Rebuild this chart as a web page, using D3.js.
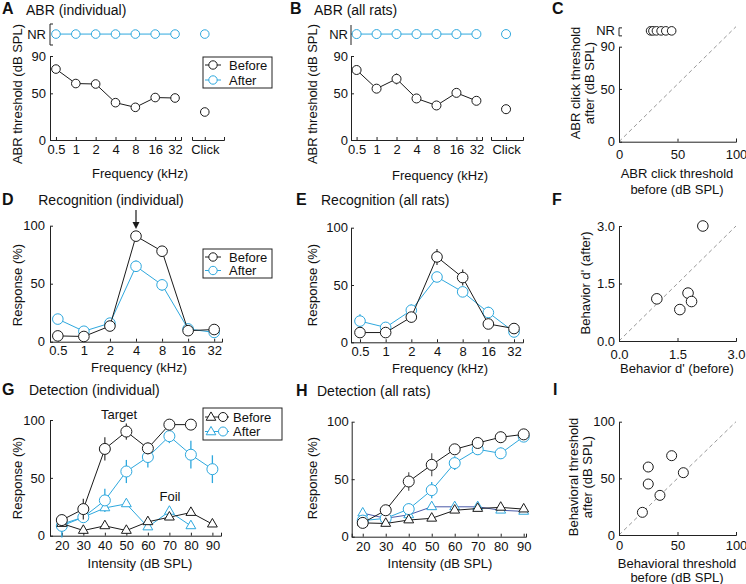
<!DOCTYPE html>
<html><head><meta charset="utf-8">
<script src="https://cdn.jsdelivr.net/npm/d3@7"></script>
<style>
body{margin:0;background:#fff;}
svg{display:block;font-family:"Liberation Sans",Arial,Helvetica,sans-serif;}
</style></head><body>
<svg id="chart" width="746" height="584"></svg>
<script>
// ---------------- DATA ----------------
const freqs = ["0.5","1","2","4","8","16","32"];
const clickCat = ["Click"];
const intensities = [20,30,40,50,60,70,80,90];

// A: ABR individual
const abrIndivBefore = [76, 60.5, 60, 40, 35, 45.5, 45];
const abrIndivBeforeClick = 30;
const abrIndivAfter = ["NR","NR","NR","NR","NR","NR","NR"];
const abrIndivAfterClick = "NR";
// B: ABR all rats
const abrAllBefore = [75, 55, 65.5, 44.5, 37, 50.5, 42];
const abrAllBeforeErr = [2, 2, 6, 4, 2, 3, 3];
const abrAllBeforeClick = 33;
const abrAllAfter = ["NR","NR","NR","NR","NR","NR","NR"];
const abrAllAfterClick = "NR";
// C: click thresholds
const clickBefore = [27, 29, 32, 36, 40, 45];
const clickAfter = ["NR","NR","NR","NR","NR","NR"];
// D: recognition individual
const recIndivBefore = [5, 4.5, 13.5, 91, 78, 9.5, 10.5];
const recIndivAfter = [19.5, 9, 16, 65, 49, 11, 8];
const recIndivAfterErr = [0, 0, 0, 5, 5, 0, 0];
// E: recognition all rats
const recAllBefore = [8.5, 8.5, 22, 74.5, 56.5, 16, 12];
const recAllBeforeErr = [2, 2, 5, 7, 7, 3, 2];
const recAllAfter = [18.5, 13, 28, 57, 44, 26, 9];
const recAllAfterErr = [6, 3, 5, 3, 3, 5, 3];
// F: d'
const dprimeBefore = [2.15, 0.97, 1.77, 1.86, 1.56];
const dprimeAfter = [3.0, 1.1, 1.25, 1.03, 0.82];
// G: detection individual
const detIndTargetBefore = [13.5, 23, 75, 90, 75.5, 96, 96, null];
const detIndTargetBeforeErr = [3, 9, 10, 7, 5, 3, 0, 0];
const detIndTargetAfter = [8.5, 16, 30.5, 55.5, 68, 86, 70, 57.5];
const detIndTargetAfterErr = [10, 4, 10, 10, 9, 6, 12, 12];
const detIndFoilBefore = [10.5, 4.5, 8.5, 4.5, 12, 16, 20, 10];
const detIndFoilAfter = [10, 16, 24, 27.5, 7.5, 21, 8.5, null];
// H: detection all rats
const detAllTargetBefore = [12, 23, 48, 62.5, 76, 81.5, 86.5, 89];
const detAllTargetBeforeErr = [2, 3, 8, 10, 4, 4, 5, 3];
const detAllTargetAfter = [14, 16, 24, 40.5, 64, 76, 72.5, 87];
const detAllTargetAfterErr = [3, 3, 5, 7, 6, 5, 5, 4];
const detAllFoilBefore = [12, 11.5, 14.5, 16, 23, 24.5, 25.5, 24];
const detAllFoilAfter = [20.5, 16, 19, 26, 26, 26, 23, 22];
// I: behavioral thresholds
const behBefore = [20, 25, 25, 35, 45, 55];
const behAfter = [20, 45, 60, 35, 70, 55];

// ---------------- STYLE ----------------
const CYAN = "#2ea8de";
const BLK = "#1a1a1a";
const AX = "#222";
const NAVY = "#4a5aa8";
const NR_AB = 113.5;   // level of "NR" row in A/B (dB scale units)
const NR_C = 105;      // level of "NR" row in C

const svg = d3.select("#chart");

function txt(x, y, s, o = {}) {
  const t = svg.append("text").attr("x", x).attr("y", y)
    .attr("font-size", o.size || 13).attr("fill", "#111")
    .attr("text-anchor", o.anchor || "start")
    .attr("font-weight", o.weight || "normal").text(s);
  return t;
}
function rtxt(cx, cy, s) {
  svg.append("text").attr("transform", `translate(${cx},${cy}) rotate(-90)`)
    .attr("text-anchor", "middle").attr("dy", "0.35em")
    .attr("font-size", 13).attr("fill", "#111").text(s);
}
function letter(x, y, s) { txt(x, y, s, {size: 16, weight: "bold"}); }

function styleAxis(g) {
  g.attr("font-family", null).attr("font-size", 13);
  g.select(".domain").attr("stroke", AX).attr("stroke-width", 1);
  g.selectAll(".tick line").attr("stroke", AX);
  g.selectAll(".tick text").attr("fill", "#111");
}
function axisB(scale, y, o = {}) {
  const ax = d3.axisBottom(scale).tickSizeInner(-3).tickSizeOuter(o.outer ?? -3).tickPadding(o.pad ?? 5);
  if (o.values) ax.tickValues(o.values);
  if (o.format) ax.tickFormat(o.format);
  const g = svg.append("g").attr("transform", `translate(0,${y})`).call(ax);
  styleAxis(g); return g;
}
function axisL(scale, x, o = {}) {
  const ax = d3.axisLeft(scale).tickSizeInner(-3).tickSizeOuter(0).tickPadding(o.pad ?? 4);
  if (o.values) ax.tickValues(o.values);
  if (o.format) ax.tickFormat(o.format);
  const g = svg.append("g").attr("transform", `translate(${x},0)`).call(ax);
  styleAxis(g); return g;
}
function line(pts, color, w = 1) {
  svg.append("path").datum(pts).attr("fill", "none").attr("stroke", color).attr("stroke-width", w)
    .attr("d", d3.line().defined(d => d[1] != null).x(d => d[0]).y(d => d[1]));
}
function circles(pts, color, r) {
  svg.append("g").selectAll("circle").data(pts.filter(d => d[1] != null)).join("circle")
    .attr("cx", d => d[0]).attr("cy", d => d[1]).attr("r", r)
    .attr("fill", "#fff").attr("stroke", color).attr("stroke-width", 1);
}
function triangles(pts, color, size = 42) {
  svg.append("g").selectAll("path").data(pts.filter(d => d[1] != null)).join("path")
    .attr("transform", d => `translate(${d[0]},${d[1]})`)
    .attr("d", d3.symbol(d3.symbolTriangle, size)())
    .attr("fill", "#fff").attr("stroke", color).attr("stroke-width", 1);
}
function errbars(xs, vals, errs, y, color, w = 1.3) {
  svg.append("g").selectAll("line").data(vals.map((v, i) => [xs[i], v, errs[i]]).filter(d => d[1] != null && d[2] > 0))
    .join("line").attr("x1", d => d[0]).attr("x2", d => d[0])
    .attr("y1", d => y(d[1] - d[2])).attr("y2", d => y(d[1] + d[2]))
    .attr("stroke", color).attr("stroke-width", w);
}
function dashed(x1, y1, x2, y2) {
  svg.append("line").attr("x1", x1).attr("y1", y1).attr("x2", x2).attr("y2", y2)
    .attr("stroke", "#999").attr("stroke-width", 1).attr("stroke-dasharray", "4,3");
}
function nrBracket(x, yTop, yBot, tick = 3) {
  svg.append("path").attr("fill", "none").attr("stroke", AX).attr("stroke-width", 1)
    .attr("d", `M${x + tick},${yTop}H${x}V${yBot}H${x + tick}`);
}
function legend(x, y, w, h, rows, tri) {
  svg.append("rect").attr("x", x).attr("y", y).attr("width", w).attr("height", h)
    .attr("fill", "#fff").attr("stroke", AX).attr("stroke-width", 1);
  rows.forEach(r => {
    if (tri) {
      line([[x + 2, r.cy], [x + 26, r.cy]], r.color);
      triangles([[x + 8, r.cy + 0.5]], r.color, 40);
      circles([[x + 20, r.cy]], r.color, 4.5);
      txt(x + 30, r.cy + 4.7, r.label);
    } else {
      line([[x + 2, r.cy], [x + 18, r.cy]], r.color);
      circles([[x + 10, r.cy]], r.color, 4.2);
      txt(x + 26, r.cy + 4.7, r.label);
    }
  });
}
const nr = (v, lvl) => v === "NR" ? lvl : v;

// ---------------- PANEL A ----------------
{
  const x = d3.scalePoint().domain(freqs).range([50, 181]).padding(0.3);
  const xc = d3.scalePoint().domain(clickCat).range([192, 224]).align(0.4);
  const y = d3.scaleLinear().domain([0, 90]).range([140, 56]);
  axisL(y, 50, {values: [0, 50, 90], pad: 4});
  axisB(x, 140, {pad: 5});
  axisB(xc, 140, {pad: 5});
  nrBracket(50, 24, 45);
  txt(46, y(NR_AB) + 4.5, "NR", {anchor: "end"});
  const aft = abrIndivAfter.map((v, i) => [x(freqs[i]), y(nr(v, NR_AB))]);
  line(aft, CYAN);
  circles(aft.concat([[xc("Click"), y(nr(abrIndivAfterClick, NR_AB))]]), CYAN, 4.3);
  const bef = abrIndivBefore.map((v, i) => [x(freqs[i]), y(v)]);
  line(bef, BLK);
  circles(bef.concat([[xc("Click"), y(abrIndivBeforeClick)]]), BLK, 4.3);
  legend(203, 57, 69, 31, [{cy: 65, color: BLK, label: "Before"}, {cy: 80, color: CYAN, label: "After"}]);
  letter(2, 14, "A");
  txt(26, 15, "ABR (individual)", {size: 14});
  rtxt(17, 94, "ABR threshold (dB SPL)");
  txt(140, 178, "Frequency (kHz)", {anchor: "middle"});
}
// ---------------- PANEL B ----------------
{
  const x = d3.scalePoint().domain(freqs).range([351, 482]).padding(0.28);
  const xc = d3.scalePoint().domain(clickCat).range([491, 523]).align(0.47);
  const y = d3.scaleLinear().domain([0, 90]).range([140, 56]);
  axisL(y, 351, {values: [0, 50, 90], pad: 3});
  axisB(x, 140, {pad: 5});
  axisB(xc, 140, {pad: 5});
  nrBracket(351, 25, 45, 0);
  svg.append("line").attr("x1", 351).attr("x2", 354).attr("y1", y(NR_AB)).attr("y2", y(NR_AB)).attr("stroke", AX);
  txt(348, y(NR_AB) + 4.5, "NR", {anchor: "end"});
  const aft = abrAllAfter.map((v, i) => [x(freqs[i]), y(nr(v, NR_AB))]);
  line(aft, CYAN);
  circles(aft.concat([[xc("Click"), y(nr(abrAllAfterClick, NR_AB))]]), CYAN, 4.5);
  const bx = freqs.map(f => x(f));
  errbars(bx, abrAllBefore, abrAllBeforeErr, y, "#555", 1.2);
  const bef = abrAllBefore.map((v, i) => [bx[i], y(v)]);
  line(bef, BLK);
  circles(bef.concat([[xc("Click"), y(abrAllBeforeClick)]]), BLK, 4.5);
  letter(290, 14, "B");
  txt(314, 15, "ABR (all rats)", {size: 14});
  rtxt(312, 94, "ABR threshold (dB SPL)");
  txt(440, 180, "Frequency (kHz)", {anchor: "middle"});
}
// ---------------- PANEL C ----------------
{
  const x = d3.scaleLinear().domain([0, 100]).range([619, 736]);
  const y = d3.scaleLinear().domain([0, 90]).range([141.7, 46.7]);
  dashed(x(0), y(0), x(100), y(109));
  axisL(y, 619, {values: [0, 50, 90], pad: 4});
  axisB(x, 141.7, {values: [0, 50, 100], pad: 8});
  nrBracket(619, y(NR_C) - 3, y(NR_C) + 5);
  txt(615, y(NR_C) + 4.5, "NR", {anchor: "end"});
  circles(clickBefore.map((v, i) => [x(v), y(nr(clickAfter[i], NR_C))]), BLK, 4.3);
  letter(552, 14, "C");
  rtxt(575, 83, "ABR click threshold");
  rtxt(589.5, 83, "after (dB SPL)");
  txt(677, 178, "ABR click threshold", {anchor: "middle"});
  txt(677, 194, "before (dB SPL)", {anchor: "middle"});
}
// ---------------- PANEL D ----------------
{
  const x = d3.scalePoint().domain(freqs).range([50, 222]).padding(0.3);
  const y = d3.scaleLinear().domain([0, 100]).range([341.7, 225.7]);
  axisL(y, 50, {values: [0, 50, 100], pad: 5});
  axisB(x, 341.7, {pad: 4});
  const xs = freqs.map(f => x(f));
  errbars(xs, recIndivAfter, recIndivAfterErr, y, CYAN);
  const aft = recIndivAfter.map((v, i) => [xs[i], y(v)]);
  line(aft, CYAN); circles(aft, CYAN, 5.3);
  const bef = recIndivBefore.map((v, i) => [xs[i], y(v)]);
  line(bef, BLK); circles(bef, BLK, 5.3);
  // arrow marking 4 kHz
  const ax4 = x("4");
  svg.append("line").attr("x1", ax4).attr("x2", ax4).attr("y1", 210).attr("y2", 223).attr("stroke", BLK).attr("stroke-width", 1.2);
  svg.append("path").attr("d", `M${ax4 - 3.5},222L${ax4 + 3.5},222L${ax4},229Z`).attr("fill", BLK);
  legend(203, 249, 69, 29, [{cy: 257, color: BLK, label: "Before"}, {cy: 270.5, color: CYAN, label: "After"}]);
  letter(2, 205, "D");
  txt(111, 205, "Recognition (individual)", {size: 14, anchor: "middle"});
  rtxt(17, 285, "Response (%)");
  txt(139, 372, "Frequency (kHz)", {anchor: "middle"});
}
// ---------------- PANEL E ----------------
{
  const x = d3.scalePoint().domain(freqs).range([351, 523]).padding(0.35);
  const y = d3.scaleLinear().domain([0, 100]).range([342.3, 227.7]);
  axisL(y, 351, {values: [0, 50, 100], pad: 3});
  axisB(x, 342.3, {pad: 4});
  const xs = freqs.map(f => x(f));
  errbars(xs, recAllAfter, recAllAfterErr, y, CYAN);
  errbars(xs, recAllBefore, recAllBeforeErr, y, "#444");
  const aft = recAllAfter.map((v, i) => [xs[i], y(v)]);
  line(aft, CYAN); circles(aft, CYAN, 5.3);
  const bef = recAllBefore.map((v, i) => [xs[i], y(v)]);
  line(bef, BLK); circles(bef, BLK, 5.3);
  letter(296, 205, "E");
  txt(321, 205, "Recognition (all rats)", {size: 14});
  rtxt(312, 285, "Response (%)");
  txt(440, 373, "Frequency (kHz)", {anchor: "middle"});
}
// ---------------- PANEL F ----------------
{
  const x = d3.scaleLinear().domain([0, 3]).range([619, 736]);
  const y = d3.scaleLinear().domain([0, 3]).range([341, 226]);
  dashed(x(0), y(0), x(3), y(3));
  axisL(y, 619, {values: [0, 1.5, 3], format: d3.format(".1f"), pad: 4});
  axisB(x, 341, {values: [0, 1.5, 3], format: d3.format(".1f"), pad: 9});
  circles(dprimeBefore.map((v, i) => [x(v), y(dprimeAfter[i])]), BLK, 5.3);
  letter(552, 205, "F");
  rtxt(585, 283, "Behavior d' (after)");
  txt(677, 373, "Behavior d' (before)", {anchor: "middle"});
}
// ---------------- PANEL G ----------------
{
  const x = d3.scaleLinear().domain([14.5, 94]).range([50, 221]);
  const y = d3.scaleLinear().domain([0, 100]).range([535.7, 420]);
  axisL(y, 50, {values: [0, 50, 100], pad: 5});
  axisB(x, 535.7, {values: intensities, pad: 5});
  const xs = intensities.map(v => x(v));
  const pts = arr => arr.map((v, i) => [xs[i], v == null ? null : y(v)]);
  errbars(xs, detIndTargetAfter, detIndTargetAfterErr, y, CYAN);
  line(pts(detIndFoilAfter), CYAN); triangles(pts(detIndFoilAfter), CYAN);
  line(pts(detIndTargetAfter), CYAN); circles(pts(detIndTargetAfter), CYAN, 5.5);
  errbars(xs, detIndTargetBefore, detIndTargetBeforeErr, y, "#444");
  line(pts(detIndFoilBefore), BLK); triangles(pts(detIndFoilBefore), BLK);
  line(pts(detIndTargetBefore), BLK); circles(pts(detIndTargetBefore), BLK, 5.5);
  txt(119, 419, "Target", {anchor: "middle"});
  txt(170, 501, "Foil", {anchor: "middle"});
  legend(203, 408, 79, 32, [{cy: 417, color: BLK, label: "Before"}, {cy: 431.5, color: CYAN, label: "After"}], true);
  letter(2, 395, "G");
  txt(29, 395, "Detection (individual)", {size: 14});
  rtxt(17, 478, "Response (%)");
  txt(140, 568, "Intensity (dB SPL)", {anchor: "middle"});
}
// ---------------- PANEL H ----------------
{
  const x = d3.scaleLinear().domain([15.2, 91]).range([351.7, 526]);
  const y = d3.scaleLinear().domain([0, 100]).range([536.7, 421.7]);
  axisL(y, 351.7, {values: [0, 50, 100], pad: 3});
  axisB(x, 536.7, {values: intensities, pad: 5});
  const xs = intensities.map(v => x(v));
  const pts = arr => arr.map((v, i) => [xs[i], v == null ? null : y(v)]);
  errbars(xs, detAllTargetAfter, detAllTargetAfterErr, y, CYAN);
  line(pts(detAllFoilAfter), NAVY); triangles(pts(detAllFoilAfter), CYAN);
  line(pts(detAllTargetAfter), CYAN); circles(pts(detAllTargetAfter), CYAN, 5.5);
  errbars(xs, detAllTargetBefore, detAllTargetBeforeErr, y, "#666");
  line(pts(detAllFoilBefore), BLK); triangles(pts(detAllFoilBefore), BLK);
  line(pts(detAllTargetBefore), BLK); circles(pts(detAllTargetBefore), BLK, 5.5);
  letter(296, 396, "H");
  txt(317, 396, "Detection (all rats)", {size: 14});
  rtxt(312, 478, "Response (%)");
  txt(440, 568, "Intensity (dB SPL)", {anchor: "middle"});
}
// ---------------- PANEL I ----------------
{
  const x = d3.scaleLinear().domain([0, 100]).range([619, 736]);
  const y = d3.scaleLinear().domain([0, 100]).range([535, 421.7]);
  dashed(x(0), y(0), x(100), y(100));
  axisL(y, 619, {values: [0, 50, 100], pad: 4});
  axisB(x, 535, {values: [0, 50, 100], pad: 6});
  circles(behBefore.map((v, i) => [x(v), y(behAfter[i])]), BLK, 5);
  letter(553, 395, "I");
  rtxt(573, 477, "Behavioral threshold");
  rtxt(587.5, 477, "after (dB SPL)");
  txt(677, 568, "Behavioral threshold", {anchor: "middle"});
  txt(677, 582, "before (dB SPL)", {anchor: "middle"});
}
</script>
</body></html>
